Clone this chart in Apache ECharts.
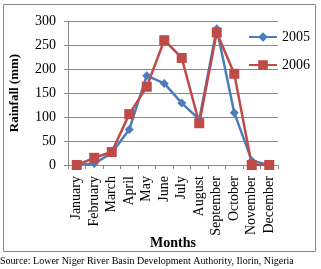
<!DOCTYPE html>
<html>
<head>
<meta charset="utf-8">
<script src="https://cdn.jsdelivr.net/npm/echarts@6/dist/echarts.min.js"></script>
<style>
  html, body { margin: 0; padding: 0; background: #fff; }
  #chart { width: 321px; height: 269px; }
</style>
</head>
<body>
<div id="chart"></div>
<script>
const months = ['January', 'February', 'March', 'April', 'May', 'June', 'July', 'August', 'September', 'October', 'November', 'December'];
const rain2005 = [0, 3, 25, 74, 186, 170, 129, 95, 284, 109, 9, 0];
const rain2006 = [0, 15, 27, 106, 163, 260, 223, 87, 276, 190, 0, 0];
const yTicks = { min: 0, max: 300, interval: 50 };

const serif = '"Liberation Serif", "DejaVu Serif", serif';
const chart = echarts.init(document.getElementById('chart'));

chart.setOption({
  animation: false,
  textStyle: { fontFamily: serif },
  grid: { left: 65, right: 43, top: 21, bottom: 104 },
  legend: {
    orient: 'vertical',
    left: 243,
    top: 25,
    itemGap: 14,
    itemWidth: 28,
    itemHeight: 12,
    textStyle: { fontFamily: serif, fontSize: 14, color: '#000' },
    data: ['2005', '2006']
  },
  xAxis: {
    type: 'category',
    data: months,
    boundaryGap: true,
    axisLine: { lineStyle: { color: '#888' } },
    axisTick: { show: true, alignWithLabel: false, length: 4, lineStyle: { color: '#888' } },
    axisLabel: { rotate: 90, margin: 11, fontFamily: serif, fontSize: 14, color: '#000', interval: 0 },
    name: 'Months',
    nameLocation: 'middle',
    nameGap: 71,
    nameMoveOverlap: false,
    nameTextStyle: { fontFamily: serif, fontSize: 14, fontWeight: 'bold', color: '#000' }
  },
  yAxis: {
    type: 'value',
    min: yTicks.min,
    max: yTicks.max,
    interval: yTicks.interval,
    axisLine: { show: true, lineStyle: { color: '#888' } },
    axisTick: { show: true, length: 4, lineStyle: { color: '#888' } },
    splitLine: { lineStyle: { color: '#888' } },
    axisLabel: { margin: 12, fontFamily: serif, fontSize: 14, color: '#000' },
    name: 'Rainfall (mm)',
    nameLocation: 'middle',
    nameGap: 47,
    nameMoveOverlap: false,
    nameTextStyle: { fontFamily: serif, fontSize: 13, fontWeight: 'bold', color: '#000' }
  },
  series: [
    {
      name: '2005', type: 'line', data: rain2005,
      symbol: 'diamond', symbolSize: 9,
      lineStyle: { color: '#4A7EBB', width: 2.5 },
      itemStyle: { color: '#4A7EBB' }
    },
    {
      name: '2006', type: 'line', data: rain2006,
      symbol: 'rect', symbolSize: 10,
      lineStyle: { color: '#BE4B48', width: 2.5 },
      itemStyle: { color: '#BE4B48' }
    }
  ],
  graphic: [
    {
      type: 'rect', silent: true, z: -1,
      shape: { x: 3.5, y: 4.5, width: 312, height: 247 },
      style: { fill: 'none', stroke: '#888', lineWidth: 1 }
    },
    {
      type: 'text', left: 0, top: 256,
      style: { text: 'Source: Lower Niger River Basin Development Authority, Ilorin, Nigeria', font: '10px ' + serif, fill: '#000' }
    }
  ]
});
</script>
</body>
</html>
